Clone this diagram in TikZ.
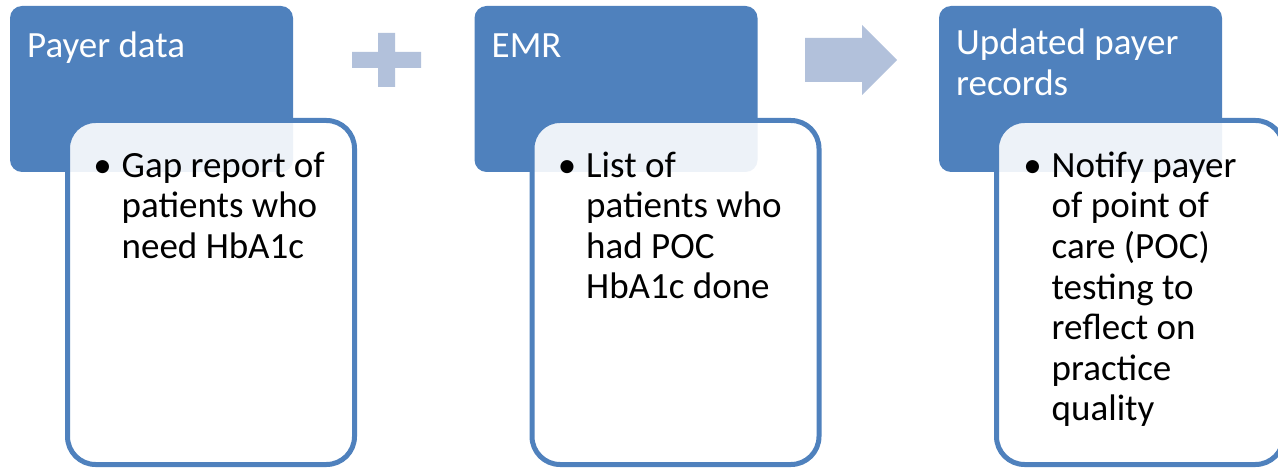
\documentclass[tikz,border=0pt]{standalone}
\usepackage{fontspec}
\setmainfont{Carlito}
\usepackage{tikz}
\usetikzlibrary{positioning,calc}
\definecolor{FlowBlue}{HTML}{4F81BD}
\definecolor{FlowTint}{HTML}{B2C1DB}
\newcommand{\bulletmark}{\llap{\textbullet\hspace{10pt}}}
\tikzset{
  header/.style={fill=FlowBlue,rounded corners=12pt,minimum width=283pt,
    minimum height=166pt,inner sep=0pt,outer sep=0pt},
  card/.style={draw=FlowBlue,line width=5pt,fill=white,fill opacity=0.9,
    rounded corners=28pt,minimum width=287pt,minimum height=344pt,
    inner sep=0pt,outer sep=0pt,anchor=north west},
  headtext/.style={anchor=north west,inner sep=0pt,align=left,text=white,
    font=\fontsize{37pt}{40.6pt}\selectfont,execute at begin node=\strut},
  bodytext/.style={headtext,text=black},
  symbol/.style={fill=FlowTint}
}

\begin{document}
\begin{tikzpicture}[x=1pt,y=1pt,node distance=181.5pt]
  \useasboundingbox (0,0) rectangle (1278,469);
  % header tiles
  \node[header] (payer) at (151.5,380) {};
  \node[header,right=of payer] (emr) {};
  \node[header,right=of emr] (records) {};
  \node[headtext] (payertext) at ([xshift=17pt,yshift=-23pt]payer.north west) {Payer data};
  \node[headtext] (emrtext) at ([xshift=17pt,yshift=-23pt]emr.north west) {EMR};
  \node[headtext] (recordstext) at ([xshift=17pt,yshift=-23pt]records.north west) {Updated payer\\records};
  % detail cards laid over the tiles
  \node[card] (gap) at ([xshift=57.5pt,yshift=51.5pt]payer.south west) {};
  \node[card] (list) at ([xshift=57.5pt,yshift=51.5pt]emr.south west) {};
  \node[card] (notify) at ([xshift=57.5pt,yshift=51.5pt]records.south west) {};
  \node[bodytext] (gaptext) at ([xshift=54pt,yshift=-31pt]gap.north west)
    {\bulletmark Gap report of\\patients who\\need HbA1c};
  \node[bodytext] (listtext) at ([xshift=54pt,yshift=-31pt]list.north west)
    {\bulletmark List of\\patients who\\had POC\\HbA1c done};
  \node[bodytext] (notifytext) at ([xshift=55pt,yshift=-31pt]notify.north west)
    {\bulletmark Notify payer\\of point of\\care (POC)\\testing to\\reflect on\\practice\\quality};
  % plus sign and arrow between the tiles
  \fill[symbol] (352,401) -- (378,401) -- (378,382) -- (395,382) -- (395,401)
    -- (421,401) -- (421,417) -- (395,417) -- (395,436) -- (378,436)
    -- (378,417) -- (352,417) -- cycle;
  \fill[symbol] (805,387) -- (862,387) -- (862,374) -- (897,409) -- (862,444)
    -- (862,431) -- (805,431) -- cycle;
\end{tikzpicture}
\end{document}
